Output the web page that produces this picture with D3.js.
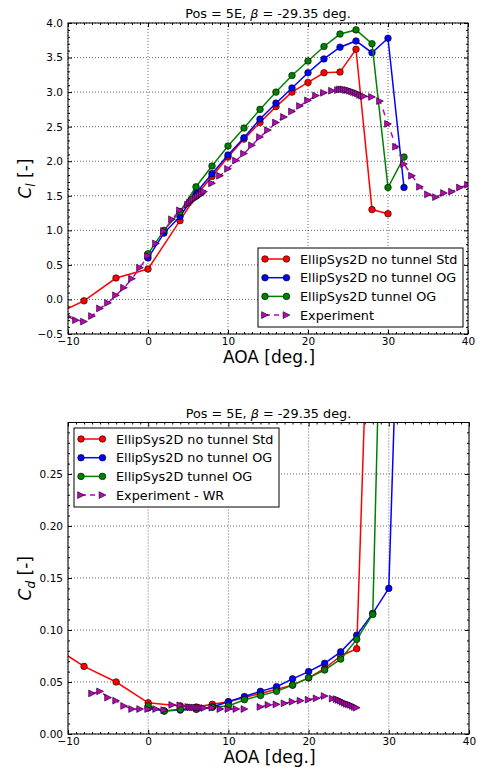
<!DOCTYPE html>
<html>
<head>
<meta charset="utf-8">
<script src="https://cdn.jsdelivr.net/npm/d3@7"></script>
<style>
  body { margin: 0; background: #fff; }
  svg { display: block; }
  text { font-family: "DejaVu Sans", sans-serif; fill: #000; }
</style>
</head>
<body>
<svg id="fig" width="477" height="767"></svg>
<script>
// ---------------- Lift coefficient ----------------
const aoaStdCl = [-12, -8, -4, 0, 4, 6, 8, 10, 12, 14, 16, 18, 20, 22, 24, 26, 28, 30];
const clStd = [-0.24, -0.02, 0.31, 0.44, 1.14, 1.50, 1.78, 2.06, 2.32, 2.56, 2.79, 3.00, 3.14, 3.28, 3.29, 3.62, 1.30, 1.24];

const aoaOgCl = [0, 2, 4, 6, 8, 10, 12, 14, 16, 18, 20, 22, 24, 26, 28, 30, 32];
const clNoTunnelOG = [0.60, 0.96, 1.20, 1.54, 1.82, 2.09, 2.34, 2.61, 2.84, 3.06, 3.28, 3.48, 3.65, 3.74, 3.57, 3.78, 1.62];
const clTunnelOG = [0.66, 1.00, 1.27, 1.63, 1.93, 2.22, 2.48, 2.75, 3.00, 3.24, 3.45, 3.66, 3.84, 3.90, 3.70, 1.62, 2.06];

const aoaExpCl = [-10, -9, -8, -7, -6, -5, -4, -3, -2, -1, 0, 1, 2, 3, 4, 5,
  5.25, 5.5, 5.75, 6, 6.25, 6.5, 6.75,
  7, 8, 9, 10, 11, 12, 13, 14, 15, 16, 17, 18, 19, 20, 21, 22, 23,
  23.75, 24, 24.25, 24.5, 24.75, 25, 25.25, 25.5, 25.75, 26, 26.25, 26.5, 26.75, 27,
  28, 29, 30, 31, 32, 33, 34, 35, 36, 37, 38, 39, 40];
const clExp = [-0.25, -0.30, -0.32, -0.24, -0.13, -0.05, 0.06, 0.17, 0.30, 0.46, 0.63, 0.81, 0.99, 1.16, 1.29, 1.37,
  1.40, 1.43, 1.45, 1.47, 1.49, 1.51, 1.53,
  1.56, 1.68, 1.79, 1.89, 2.01, 2.11, 2.23, 2.35, 2.45, 2.56, 2.64, 2.72, 2.80, 2.88, 2.95, 2.99, 3.02,
  3.03, 3.04, 3.04, 3.04, 3.03, 3.03, 3.02, 3.01, 3.00, 2.99, 2.98, 2.96, 2.95, 2.94,
  2.93, 2.87, 2.54, 2.21, 1.96, 1.79, 1.63, 1.52, 1.48, 1.54, 1.56, 1.62, 1.66];

// ---------------- Drag coefficient ----------------
const aoaStdCd = [-12, -8, -4, 0, 4, 6, 8, 10, 12, 14, 16, 18, 20, 22, 24, 26, 28];
const cdStd = [0.085, 0.065, 0.050, 0.030, 0.027, 0.026, 0.0285, 0.031, 0.035, 0.039, 0.043, 0.047, 0.054, 0.063, 0.075, 0.082, 0.55];

const aoaNoTunnelCd = [0, 2, 4, 6, 8, 10, 12, 14, 16, 18, 20, 22, 24, 26, 28, 30, 32];
const cdNoTunnelOG = [0.025, 0.022, 0.023, 0.024, 0.026, 0.031, 0.036, 0.041, 0.0455, 0.053, 0.060, 0.068, 0.079, 0.095, 0.116, 0.140, 0.63];

const aoaTunnelCd = [0, 2, 4, 6, 8, 10, 12, 14, 16, 18, 20, 22, 24, 26, 28, 30];
const cdTunnelOG = [0.027, 0.0222, 0.0237, 0.0237, 0.0257, 0.027, 0.033, 0.037, 0.041, 0.047, 0.054, 0.0615, 0.072, 0.091, 0.115, 0.73];

const aoaExpCd = [-7, -6, -5, -4, -3, -2, -1, 0, 1, 2, 3, 4, 5,
  5.25, 5.5, 5.75, 6, 6.25, 6.5, 6.75,
  7, 8, 9, 10, 11, 12, 13, 14, 15, 16, 17, 18, 19, 20, 21, 22, 23,
  23.5, 23.75, 24, 24.25, 24.5, 24.75, 25, 25.25, 25.5, 25.75, 26];
const cdExp = [0.039, 0.041, 0.035, 0.032, 0.027, 0.024, 0.024, 0.024, 0.024, 0.023, 0.028, 0.0276, 0.026,
  0.0258, 0.0256, 0.0255, 0.0254, 0.0253, 0.0252, 0.0252,
  0.025, 0.0253, 0.024, 0.024, 0.024, 0.024, null, 0.026, 0.028, 0.0285, 0.0295, 0.031, 0.032, 0.033, 0.0343, 0.0365, 0.034,
  0.0335, 0.0328, 0.032, 0.031, 0.030, 0.029, 0.0285, 0.028, 0.027, 0.026, 0.0253];

// ---------------- Axis ticks and labels ----------------
const aoaDomain = [-10, 40];
const aoaTicks = [-10, 0, 10, 20, 30, 40];
const clTicks = [-0.5, 0.0, 0.5, 1.0, 1.5, 2.0, 2.5, 3.0, 3.5, 4.0];
const cdTicks = [0.00, 0.05, 0.10, 0.15, 0.20, 0.25];
const titleText = "Pos = 5E, ";
const titleRest = " = -29.35 deg.";
const xLabel = "AOA [deg.]";
const namesCl = ["EllipSys2D no tunnel Std", "EllipSys2D no tunnel OG", "EllipSys2D tunnel OG", "Experiment"];
const namesCd = ["EllipSys2D no tunnel Std", "EllipSys2D no tunnel OG", "EllipSys2D tunnel OG", "Experiment - WR"];

const RED = "#ff0000", BLUE = "#0000ff", GREEN = "#008000", MAGENTA = "#bf00bf";
const svg = d3.select("#fig");
const FONT = "DejaVu Sans";

const minus = s => s.replace(/^-/, "\u2212");
const fmtX = d => minus(String(d));
const fmtCl = d => minus(d.toFixed(1));
const fmtCd = d => d.toFixed(2);

const triPath = "M-3.4,-3.4L3.4,0L-3.4,3.4Z";

function drawMarkers(g, pts, s) {
  if (s.marker === "circle") {
    g.selectAll(null).data(pts).join("circle")
      .attr("cx", p => p[0]).attr("cy", p => p[1]).attr("r", 3.3)
      .attr("fill", s.color).attr("stroke", "#000").attr("stroke-width", 0.6);
  } else {
    g.selectAll(null).data(pts).join("path")
      .attr("d", triPath)
      .attr("transform", p => `translate(${p[0]},${p[1]})`)
      .attr("fill", s.color).attr("stroke", "#000").attr("stroke-width", 0.6);
  }
}

function drawPanel(o) {
  const x = d3.scaleLinear().domain(aoaDomain).range([o.left, o.right]);
  const y = d3.scaleLinear().domain(o.yDomain).range([o.bottom, o.top]);
  const g = svg.append("g");

  svg.append("clipPath").attr("id", o.id + "-clip")
    .append("rect").attr("x", o.left).attr("y", o.top)
    .attr("width", o.right - o.left).attr("height", o.bottom - o.top);

  // dotted grid at the major ticks
  const grid = g.append("g").attr("stroke", "#000").attr("stroke-width", 0.6)
    .attr("stroke-dasharray", "1,2");
  grid.selectAll(null).data(aoaTicks).join("line")
    .attr("x1", d => x(d)).attr("x2", d => x(d)).attr("y1", o.top).attr("y2", o.bottom);
  grid.selectAll(null).data(o.yTicks).join("line")
    .attr("y1", d => y(d)).attr("y2", d => y(d)).attr("x1", o.left).attr("x2", o.right);

  // series
  const plot = g.append("g").attr("clip-path", `url(#${o.id}-clip)`);
  o.series.forEach(s => {
    const pts = s.x.map((a, i) => [a, s.y[i]]);
    const line = d3.line().defined(p => p[1] != null).x(p => x(p[0])).y(p => y(p[1]));
    plot.append("path").attr("d", line(pts)).attr("fill", "none")
      .attr("stroke", s.color).attr("stroke-width", 1.5)
      .attr("stroke-dasharray", s.dash || null);
    const mk = pts.filter(p => p[1] != null).map(p => [x(p[0]), y(p[1])]);
    drawMarkers(plot.append("g"), mk, s);
  });

  // ticks (inward, on all four sides)
  const styleAxis = a => {
    a.select(".domain").remove();
    a.attr("font-family", FONT).attr("font-size", 10.5);
    a.selectAll("line").attr("stroke-width", 1);
  };
  const xMinor = d3.range(-10, 40.01, 1).filter(v => !aoaTicks.includes(v));
  const yMinor = d3.range(o.yDomain[0], o.yDomain[1] + 1e-9, o.yMinorStep)
    .filter(v => !o.yTicks.some(t => Math.abs(t - v) < 1e-9));

  g.append("g").attr("transform", `translate(0,${o.bottom})`)
    .call(d3.axisBottom(x).tickValues(aoaTicks).tickSizeInner(-4).tickSizeOuter(0).tickPadding(4).tickFormat(fmtX))
    .call(styleAxis);
  g.append("g").attr("transform", `translate(0,${o.top})`)
    .call(d3.axisTop(x).tickValues(aoaTicks).tickSizeInner(-4).tickSizeOuter(0).tickFormat(""))
    .call(styleAxis);
  g.append("g").attr("transform", `translate(${o.left},0)`)
    .call(d3.axisLeft(y).tickValues(o.yTicks).tickSizeInner(-4).tickSizeOuter(0).tickPadding(5).tickFormat(o.fmtY))
    .call(styleAxis);
  g.append("g").attr("transform", `translate(${o.right},0)`)
    .call(d3.axisRight(y).tickValues(o.yTicks).tickSizeInner(-4).tickSizeOuter(0).tickFormat(""))
    .call(styleAxis);
  // minor ticks
  [[d3.axisBottom(x).tickValues(xMinor), `translate(0,${o.bottom})`],
   [d3.axisTop(x).tickValues(xMinor), `translate(0,${o.top})`],
   [d3.axisLeft(y).tickValues(yMinor), `translate(${o.left},0)`],
   [d3.axisRight(y).tickValues(yMinor), `translate(${o.right},0)`]].forEach(([ax, tr]) => {
    g.append("g").attr("transform", tr)
      .call(ax.tickSizeInner(-2).tickSizeOuter(0).tickFormat(""))
      .call(styleAxis);
  });

  // frame
  g.append("rect").attr("x", o.left).attr("y", o.top)
    .attr("width", o.right - o.left).attr("height", o.bottom - o.top)
    .attr("fill", "none").attr("stroke", "#000").attr("stroke-width", 1);

  // title
  const cx = (o.left + o.right) / 2;
  const t = g.append("text").attr("x", cx).attr("y", o.top - 5)
    .attr("text-anchor", "middle").attr("font-size", 12.8);
  t.append("tspan").text(titleText);
  t.append("tspan").attr("font-style", "italic").text("\u03b2");
  t.append("tspan").text(titleRest);

  // x label
  g.append("text").attr("x", cx + 1).attr("y", o.bottom + 29)
    .attr("text-anchor", "middle").attr("font-size", 17).text(xLabel);

  // y label
  const cy = (o.top + o.bottom) / 2;
  const yl = g.append("text").attr("transform", `translate(31,${cy}) rotate(-90)`)
    .attr("text-anchor", "middle").attr("font-size", 17);
  yl.append("tspan").attr("font-style", "italic").text("C");
  yl.append("tspan").attr("font-style", "italic").attr("font-size", 12).attr("dy", 4).text(o.sub);
  yl.append("tspan").attr("dy", -4).text(" [-]");

  // legend
  const lg = g.append("g").attr("transform", `translate(${o.legX},${o.legY})`);
  lg.append("rect").attr("width", 205).attr("height", 79)
    .attr("fill", "#fff").attr("stroke", "#000").attr("stroke-width", 1);
  o.series.forEach((s, i) => {
    const ry = 11 + i * 18.7;
    lg.append("line").attr("x1", 7).attr("x2", 28.5).attr("y1", ry).attr("y2", ry)
      .attr("stroke", s.color).attr("stroke-width", 1.5)
      .attr("stroke-dasharray", s.dash ? "5,4" : null);
    drawMarkers(lg.append("g"), [[7, ry], [28.5, ry]], s);
    lg.append("text").attr("x", 42).attr("y", ry).attr("dy", "0.36em")
      .attr("font-size", 12.8).text(o.names[i]);
  });
}

drawPanel({
  id: "cl", left: 68, right: 468, top: 23, bottom: 334,
  yDomain: [-0.5, 4.0], yTicks: clTicks, yMinorStep: 0.1, fmtY: fmtCl, sub: "l",
  names: namesCl, legX: 258, legY: 248,
  series: [
    { x: aoaStdCl, y: clStd, color: RED, marker: "circle" },
    { x: aoaOgCl, y: clNoTunnelOG, color: BLUE, marker: "circle" },
    { x: aoaOgCl, y: clTunnelOG, color: GREEN, marker: "circle" },
    { x: aoaExpCl, y: clExp, color: MAGENTA, marker: "tri", dash: "6,6" }
  ]
});

drawPanel({
  id: "cd", left: 68, right: 469, top: 422.5, bottom: 734,
  yDomain: [0, 0.2995], yTicks: cdTicks, yMinorStep: 0.01, fmtY: fmtCd, sub: "d",
  names: namesCd, legX: 74, legY: 428,
  series: [
    { x: aoaStdCd, y: cdStd, color: RED, marker: "circle" },
    { x: aoaNoTunnelCd, y: cdNoTunnelOG, color: BLUE, marker: "circle" },
    { x: aoaTunnelCd, y: cdTunnelOG, color: GREEN, marker: "circle" },
    { x: aoaExpCd, y: cdExp, color: MAGENTA, marker: "tri", dash: "6,6" }
  ]
});
</script>
</body>
</html>
